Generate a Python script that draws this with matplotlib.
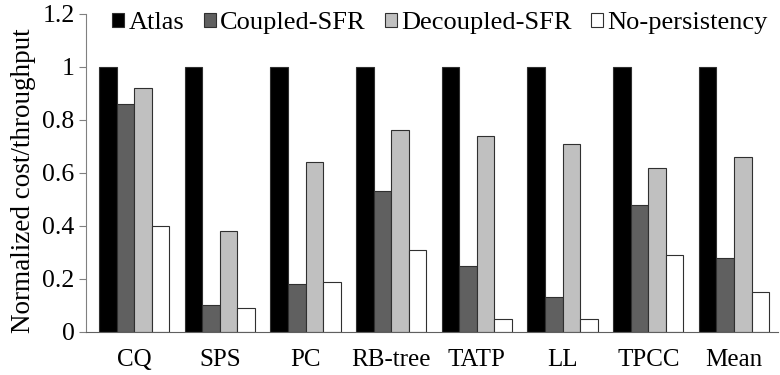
import matplotlib.pyplot as plt
import numpy as np

plt.rcParams['font.family'] = ['Liberation Serif', 'DejaVu Serif']

benchmarks = ['CQ', 'SPS', 'PC', 'RB-tree', 'TATP', 'LL', 'TPCC', 'Mean']
atlas = [1, 1, 1, 1, 1, 1, 1, 1]
coupled = [0.86, 0.10, 0.18, 0.53, 0.25, 0.13, 0.48, 0.28]
decoupled = [0.92, 0.38, 0.64, 0.76, 0.74, 0.71, 0.62, 0.66]
no_persist = [0.40, 0.09, 0.19, 0.31, 0.05, 0.05, 0.29, 0.15]

series = [('Atlas', atlas, '#000000'),
          ('Coupled-SFR', coupled, '#606060'),
          ('Decoupled-SFR', decoupled, '#c0c0c0'),
          ('No-persistency', no_persist, '#ffffff')]

fig = plt.figure(figsize=(7.8, 3.75), dpi=100)
ax = fig.add_axes([0.110, 0.115, 0.887, 0.848])

x = np.arange(len(benchmarks))
w = 0.205
for i, (name, vals, col) in enumerate(series):
    ax.bar(x + (i - 1.5) * w, vals, w, color=col, edgecolor='#303030',
           linewidth=0.8, label=name)

ax.set_xlim(-0.565, 7.51)
ax.set_ylim(0, 1.2)
ax.set_yticks([0, 0.2, 0.4, 0.6, 0.8, 1, 1.2])
ax.set_yticklabels(['0', '0.2', '0.4', '0.6', '0.8', '1', '1.2'])
ax.set_xticks(x)
ax.set_xticklabels(benchmarks)
ax.tick_params(axis='x', length=0, labelsize=18, pad=12)
ax.tick_params(axis='y', length=5, color='#808080', labelsize=18.5, pad=3)
ax.set_ylabel('Normalized cost/throughput', fontsize=19.5)
ax.yaxis.set_label_coords(-0.072, 0.475)

for s in ['top', 'right']:
    ax.spines[s].set_visible(False)
ax.spines['left'].set_color('#808080')
ax.spines['bottom'].set_color('#606060')

ax.legend(ncol=4, loc='upper right', bbox_to_anchor=(1.008, 1.055),
          frameon=False, fontsize=19, handlelength=0.45, handleheight=0.45,
          handletextpad=0.15, columnspacing=0.75, borderpad=0.1)

fig.savefig('out.png', dpi=100)
